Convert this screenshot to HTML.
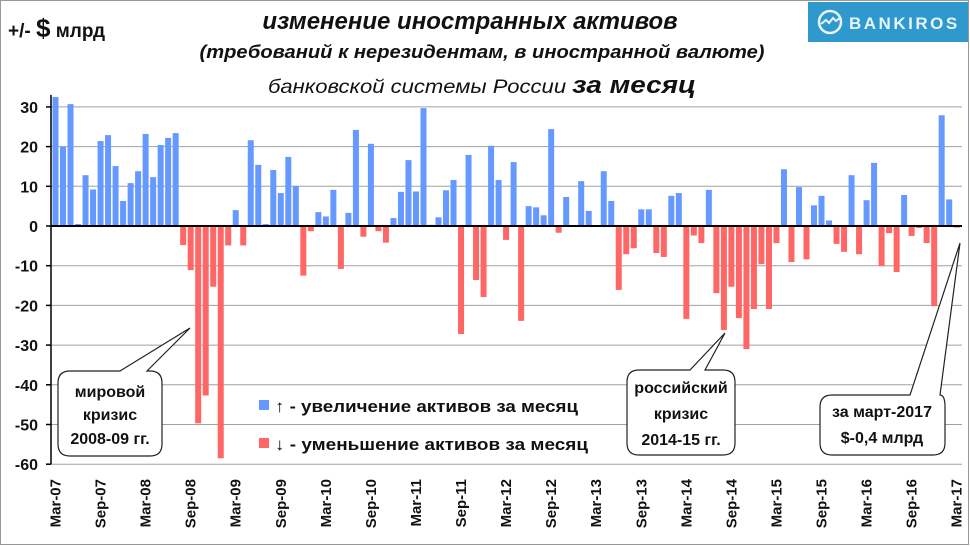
<!DOCTYPE html>
<html><head><meta charset="utf-8"><style>
body{margin:0;background:#fff}
svg{display:block;font-family:"Liberation Sans","DejaVu Sans",sans-serif}
.ct{font-size:16px;font-weight:bold;fill:#111}
</style></head><body>
<svg id="chart" width="970" height="546" viewBox="0 0 970 546" xmlns="http://www.w3.org/2000/svg">
<rect x="0.5" y="0.5" width="968" height="544" fill="#fff" stroke="#999"/>
<g id="grid"></g>
<g id="bars"></g>
<g id="axes"></g>
<text x="8" y="37" font-size="19" font-weight="bold" fill="#111">+/- <tspan font-size="26">$</tspan> млрд</text>
<text x="470" y="29" text-anchor="middle" font-size="24" font-weight="bold" font-style="italic" fill="#111">изменение иностранных активов</text>
<text x="482" y="58" text-anchor="middle" font-size="18" font-weight="bold" font-style="italic" fill="#111" textLength="565" lengthAdjust="spacingAndGlyphs">(требований к нерезидентам, в иностранной валюте)</text>
<text x="482" y="93" text-anchor="middle" font-size="19" font-style="italic" fill="#111" textLength="428" lengthAdjust="spacingAndGlyphs">банковской системы России <tspan font-size="24" font-weight="bold">за месяц</tspan></text>
<g>
<rect x="808" y="2" width="160" height="40" fill="#2f98cc"/>
<circle cx="830" cy="22" r="11" fill="none" stroke="#e8f4fb" stroke-width="2.5"/>
<path d="M821 24 l5 -4 l3 3 l4 -5 l3 3 l5 -4" fill="none" stroke="#e8f4fb" stroke-width="2"/>
<text x="849" y="29" font-size="17" font-weight="bold" fill="#e8f4fb" letter-spacing="2.5">BANKIROS</text>
</g>
<g>
<rect x="259" y="400" width="10" height="10" fill="#6699ff"/>
<text x="275" y="412" font-size="17" font-weight="bold" fill="#111" textLength="303" lengthAdjust="spacingAndGlyphs">↑ - увеличение активов за месяц</text>
<rect x="259" y="438" width="10" height="10" fill="#ff6666"/>
<text x="275" y="450" font-size="17" font-weight="bold" fill="#111" textLength="313" lengthAdjust="spacingAndGlyphs">↓ - уменьшение активов за месяц</text>
</g>
<g>
<path d="M70 371 L120 371 L190 328 L147 371 L150 371 Q162 371 162 383 L162 444 Q162 456 150 456 L70 456 Q58 456 58 444 L58 383 Q58 371 70 371 Z" fill="#fff" stroke="#222" stroke-width="1.2"/>
<text x="110" y="397" text-anchor="middle" class="ct">мировой</text>
<text x="110" y="420" text-anchor="middle" class="ct">кризис</text>
<text x="110" y="444" text-anchor="middle" class="ct">2008-09 гг.</text>
</g>
<g>
<path d="M639 370 L690 370 L725 333 L705 370 L723 370 Q735 370 735 382 L735 443 Q735 455 723 455 L639 455 Q627 455 627 443 L627 382 Q627 370 639 370 Z" fill="#fff" stroke="#222" stroke-width="1.2"/>
<text x="681" y="393" text-anchor="middle" class="ct">российский</text>
<text x="681" y="419" text-anchor="middle" class="ct">кризис</text>
<text x="681" y="445" text-anchor="middle" class="ct">2014-15 гг.</text>
</g>
<g>
<path d="M832 395 L910 395 L960 243 L940 395 Q945 395 945 407 L945 443 Q945 455 933 455 L832 455 Q820 455 820 443 L820 407 Q820 395 832 395 Z" fill="#fff" stroke="#222" stroke-width="1.2"/>
<text x="882" y="417" text-anchor="middle" class="ct">за март-2017</text>
<text x="882" y="443" text-anchor="middle" class="ct">$-0,4 млрд</text>
</g>
</svg>
<script>
const values = [32.5,20,30.7,0.5,12.8,9.2,21.4,22.9,15.1,6.3,10.8,13.8,23.2,12.3,20.4,22.2,23.4,-4.8,-11.1,-49.7,-42.7,-15.3,-58.5,-4.9,4.0,-4.9,21.6,15.4,0.5,14.1,8.3,17.4,10.1,-12.5,-1.3,3.5,2.4,9.1,-10.8,3.3,24.2,-2.7,20.7,-1.3,-4.2,2.0,8.6,16.6,8.7,29.7,0.3,2.2,9.0,11.6,-27.2,17.9,-13.6,-17.9,20.2,11.6,-3.5,16.1,-23.9,5.0,4.7,2.7,24.4,-1.7,7.3,0,11.3,3.8,0,13.8,6.3,-16.1,-7.1,-5.6,4.2,4.2,-6.8,-7.8,7.6,8.3,-23.4,-2.4,-4.3,9.1,-16.9,-26.2,-15.3,-23.2,-31.0,-20.9,-9.6,-20.9,-4.3,14.3,-9.1,9.8,-8.4,5.2,7.6,1.4,-4.5,-6.5,12.8,-7.1,6.5,15.9,-10.1,-1.8,-11.6,7.8,-2.5,-0.5,-4.3,-20.2,27.9,6.7,-0.4];
const yTicks = [30,20,10,0,-10,-20,-30,-40,-50,-60];
const xLabels = ["Mar-07","Sep-07","Mar-08","Sep-08","Mar-09","Sep-09","Mar-10","Sep-10","Mar-11","Sep-11","Mar-12","Sep-12","Mar-13","Sep-13","Mar-14","Sep-14","Mar-15","Sep-15","Mar-16","Sep-16","Mar-17"];
const NS="http://www.w3.org/2000/svg";
const y = v => 226 - v*3.97;
const x = i => 55.5 + i*7.51;
const grid=document.getElementById('grid'), bars=document.getElementById('bars'), axes=document.getElementById('axes');
function mk(tag,attrs,parent){const e=document.createElementNS(NS,tag);for(const k in attrs)e.setAttribute(k,attrs[k]);parent.appendChild(e);return e;}
yTicks.forEach(t=>{
  if(t!==0){const g=mk('line',{x1:51,x2:962,y1:y(t),y2:y(t),stroke:'#a0a0a0','stroke-width':1},grid);
  
  }
  const tk=mk('line',{x1:46,x2:51,y1:y(t),y2:y(t),stroke:'#000','stroke-width':1.5},axes);
  
  
  const tx=mk('text',{x:38,y:y(t)+6,'text-anchor':'end','font-size':16,'font-weight':'bold',fill:'#111'},axes);
  tx.textContent=t;
  
  
});
values.forEach((v,i)=>{
  const r=mk('rect',{x:x(i)-3,width:6,y:Math.min(y(v),y(0)),height:Math.abs(y(v)-y(0)),fill:v>=0?'#6699ff':'#ff6666'},bars);
  
  
});
const ax=mk('line',{x1:51,x2:51,y1:y(30)-12,y2:y(-60),stroke:'#000','stroke-width':1.5},axes);


const z=mk('line',{x1:51,x2:962,y1:y(0),y2:y(0),stroke:'#000','stroke-width':2},axes);


xLabels.forEach((l,k)=>{
  const cx=x(k*6);
  const t=mk('text',{x:0,y:0,'text-anchor':'end','font-size':15,'font-weight':'bold',fill:'#111',transform:`translate(${cx+5},479) rotate(-90)`},axes);
  t.textContent=l;
  
  
});
</script>
</body></html>
